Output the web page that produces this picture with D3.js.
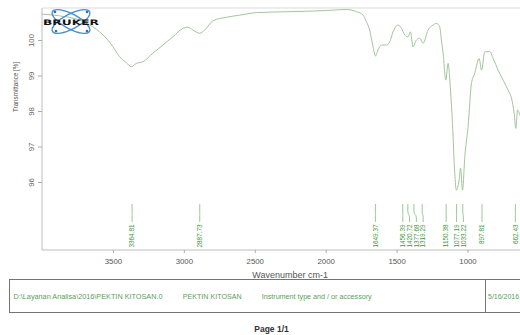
<!DOCTYPE html>
<html><head><meta charset="utf-8">
<script src="https://cdn.jsdelivr.net/npm/d3@7"></script>
<style>body{margin:0;background:#fff}svg{display:block}</style>
</head><body>
<script>
// Spectrum data: wavenumber (cm-1) and transmittance (%)
const wavenumbers = [4000,3876,3735,3641,3594,3547,3500,3453,3405,3370,3335,3288,3218,3147,3077,3006,2971,2936,2888,2853,2795,2700,2606,2488,2230,1995,1854,1783,1736,1713,1690,1666,1649,1631,1607,1571,1548,1525,1490,1466,1442,1419,1402,1384,1360,1337,1313,1278,1243,1219,1196,1184,1172,1153,1137,1120,1106,1090,1078,1059,1049,1035,1019,996,972,949,918,901,878,843,819,784,749,714,690,671,659,647,631,600,550,500,450,400];
const transmittance = [100.73,100.68,100.56,100.37,100.23,100.05,99.81,99.53,99.36,99.25,99.34,99.39,99.63,99.86,100.09,100.33,100.36,100.28,100.19,100.28,100.54,100.64,100.70,100.77,100.80,100.83,100.86,100.80,100.70,100.52,100.28,99.81,99.55,99.72,99.86,99.86,99.95,100.23,100.42,100.33,100.14,100.09,100.23,99.81,100.00,100.05,99.91,100.28,100.42,100.47,100.37,100.00,99.63,98.87,99.34,98.59,97.65,96.25,95.77,96.06,96.39,95.77,96.71,97.56,98.78,99.06,99.48,99.15,99.67,99.67,99.48,99.15,98.87,98.59,98.36,97.94,97.51,98.03,97.89,97.6,97.3,97.5,97.2,97.0];
const peakWn = [3364.81,2887.73,1649.37,1456.39,1420.72,1377.68,1319.29,1150.38,1077.19,1033.22,897.81,662.43];
const peakLabels = ["3364.81","2887.73","1649.37","1456.39","1420.72","1377.68","1319.29","1150.38","1077.19","1033.22","897.81","662.43"];
const xTicks = [3500,3000,2500,2000,1500,1000];
const yTicks = [100,99,98,97,96];
const footerTexts = ["D:\\Layanan Analisa\\2016\\PEKTIN KITOSAN.0","PEKTIN KITOSAN","Instrument type and / or accessory"];
const footerDate = "5/16/2016";

const W = 520, H = 335;
const svg = d3.select("body").append("svg").attr("width", W).attr("height", H);
const font = "'Liberation Sans', Arial, sans-serif";

const x = d3.scaleLinear().domain([4000, 400]).range([42, 552.6]);
const y = d3.scaleLinear().domain([100, 96]).range([40, 182]);
const plotTop = 8, plotBottom = 250;

// frame lines
svg.append("line").attr("x1",42).attr("x2",W).attr("y1",plotTop).attr("y2",plotTop).attr("stroke","#dcdcdc");
svg.append("line").attr("x1",42).attr("x2",42).attr("y1",plotTop).attr("y2",plotBottom).attr("stroke","#bdbdbd");
svg.append("line").attr("x1",42).attr("x2",W).attr("y1",plotBottom).attr("y2",plotBottom).attr("stroke","#bdbdbd");

// y axis
const yAxis = svg.append("g").attr("transform","translate(42,0)")
  .call(d3.axisLeft(y).tickValues(yTicks).tickSize(4).tickFormat(d3.format("d")));
yAxis.select(".domain").remove();
yAxis.selectAll(".tick line").attr("stroke","#aaa");
yAxis.selectAll(".tick text").attr("fill","#666").style("font-family",font).style("font-size","7.8px")
  .attr("x",null).attr("dy",null).attr("text-anchor","middle")
  .attr("transform","translate(-11,0) rotate(-90)").attr("y",0).attr("dy","0.35em");
svg.append("text").attr("transform","translate(15,87) rotate(-90)").attr("text-anchor","middle")
  .attr("dy","0.35em").attr("textLength",50).attr("lengthAdjust","spacingAndGlyphs")
  .style("font-family",font).style("font-size","7.8px").attr("fill","#555")
  .text("Transmittance [%]");

// x axis
const xAxis = svg.append("g").attr("transform",`translate(0,${plotBottom})`)
  .call(d3.axisBottom(x).tickValues(xTicks).tickSize(3).tickFormat(d3.format("d")));
xAxis.select(".domain").remove();
xAxis.selectAll(".tick line").attr("stroke","#aaa");
xAxis.selectAll(".tick text").attr("fill","#555").style("font-family",font).style("font-size","7.8px").attr("y",8);
svg.append("text").attr("x",(x(2000)+x(2500))/2).attr("y",278).attr("text-anchor","middle")
  .style("font-family",font).style("font-size","9px").attr("fill","#555").text("Wavenumber cm-1");

// spectrum
const pts = wavenumbers.map((w,i)=>[w, transmittance[i]]);
svg.append("defs").append("clipPath").attr("id","clip").append("rect")
  .attr("x",42).attr("y",plotTop).attr("width",W-42).attr("height",plotBottom-plotTop);
svg.append("path").datum(pts).attr("clip-path","url(#clip)")
  .attr("d", d3.line().x(d=>x(d[0])).y(d=>y(d[1])).curve(d3.curveMonotoneX))
  .attr("fill","none").attr("stroke","#a3c49c").attr("stroke-width",1);

// peak markers
const px = peakWn.map(w=>x(w));
const lx = px.slice();
const gap = 6.8;
for (let i=1;i<lx.length;i++){ if (lx[i]-lx[i-1] < gap) lx[i] = lx[i-1]+gap; }
const pk = svg.append("g");
peakWn.forEach((w,i)=>{
  const a = px[i], b = lx[i];
  const p = d3.path();
  p.moveTo(a,204); p.lineTo(a,211);
  p.bezierCurveTo(a,215,b,214,b,218); p.lineTo(b,222);
  pk.append("path").attr("d",p.toString()).attr("fill","none").attr("stroke","#7dbb7d").attr("stroke-width",0.8);
  pk.append("text").attr("transform",`translate(${b+2.2},224.5) rotate(-90)`).attr("text-anchor","end")
    .style("font-family",font).style("font-size","6.4px").attr("fill","#3f9a3f").text(peakLabels[i]);
});

// logo
const logo = svg.append("g");
[-28, 28].forEach(r=>{
  logo.append("ellipse").attr("cx",71).attr("cy",21.5).attr("rx",21).attr("ry",7.5)
    .attr("transform",`rotate(${r},71,21.5)`).attr("fill","none").attr("stroke","#4a8fd0").attr("stroke-width",1.4);
});
[[55,12],[87,31],[56,31],[87,12]].forEach(d=>logo.append("circle").attr("cx",d[0]).attr("cy",d[1]).attr("r",1.3).attr("fill","#2f6fb8"));
logo.append("text").attr("x",43).attr("y",25).attr("textLength",56).attr("lengthAdjust","spacingAndGlyphs")
  .style("font-family","'DejaVu Sans', sans-serif").style("font-weight","bold").style("font-size","7.5px").attr("fill","#111").text("BRUKER");

// footer box
svg.append("rect").attr("x",9.5).attr("y",279.5).attr("width",W+10).attr("height",33).attr("fill","none").attr("stroke","#666").attr("stroke-width",0.9);
svg.append("line").attr("x1",485.5).attr("x2",485.5).attr("y1",279.5).attr("y2",312.5).attr("stroke","#666").attr("stroke-width",0.9);
const fx = [13.5,182.7,261.7];
const fw = [149,59,110];
footerTexts.forEach((t,i)=>{
  svg.append("text").attr("x",fx[i]).attr("y",298.5).attr("textLength",fw[i]).attr("lengthAdjust","spacingAndGlyphs")
    .style("font-family",font).style("font-size","7px").attr("fill","#5aa05a").text(t);
});
svg.append("text").attr("x",488).attr("y",298.5).style("font-family",font).style("font-size","7px").attr("fill","#5aa05a").text(footerDate);
svg.append("text").attr("x",271.5).attr("y",331.5).attr("text-anchor","middle").style("font-family",font)
  .style("font-weight","bold").style("font-size","8.5px").attr("fill","#333").text("Page 1/1");
</script>
</body></html>
